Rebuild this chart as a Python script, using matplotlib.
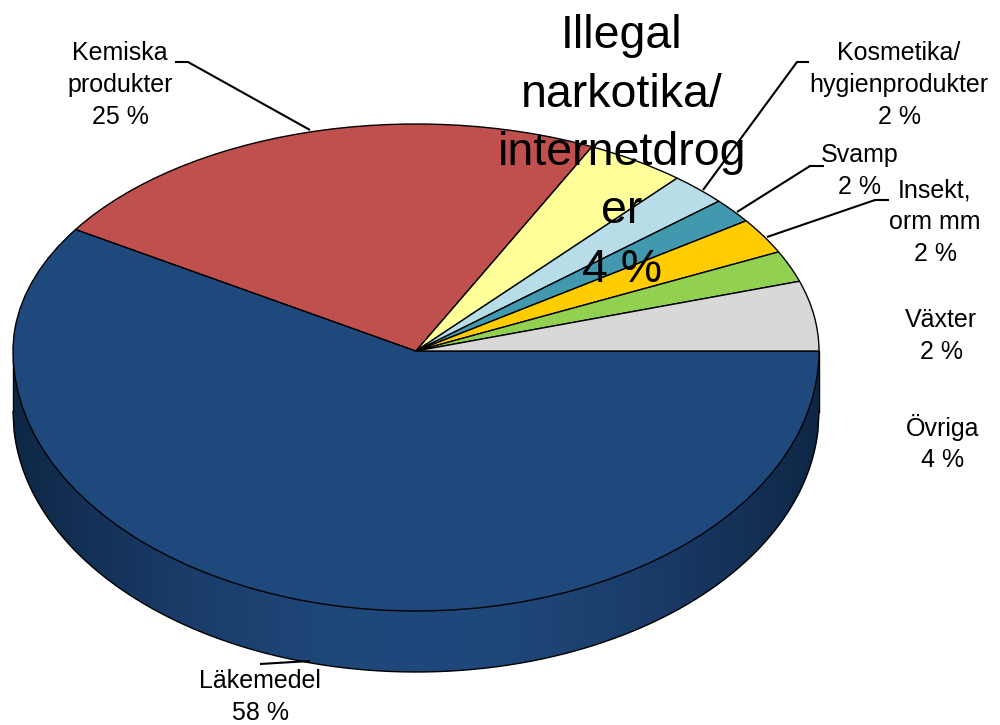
import numpy as np
import matplotlib
matplotlib.use("Agg")
import matplotlib.pyplot as plt
from matplotlib.colors import LinearSegmentedColormap

categories = ["Läkemedel", "Kemiska\nprodukter", "Illegal\nnarkotika/\ninternetdrog\ner",
              "Kosmetika/\nhygienprodukter", "Svamp", "Insekt,\norm mm", "Växter", "Övriga"]
shares_drawn = [59.0, 23.2, 4.03, 2.31, 1.75, 2.53, 2.22, 4.97]
shares_label = [58, 25, 4, 2, 2, 2, 2, 4]
colors = ["#1f497d", "#c0504d", "#ffff99", "#b7dde8", "#4198af", "#ffcc00", "#92d050", "#d8d8d8"]

W, H = 1000, 725
plt.rcParams["font.family"] = ["Liberation Sans", "DejaVu Sans"]
fig = plt.figure(figsize=(W / 100, H / 100), dpi=100)

# The tilted pie is foreshortened more at the back than at the front,
# so the same pie is drawn in two axes, each showing one half.
x0, x1 = 13, 819
yc, back_top, front_bottom = 351, 124, 611
rx = (x1 - x0) / 2
depth = 61 / (front_bottom - yc)
pad = 0.02
xmargin = pad * rx


def half_axes(top_px, bottom_px):
    return fig.add_axes([(x0 - xmargin) / W, 1 - bottom_px / H,
                         (x1 - x0 + 2 * xmargin) / W, (bottom_px - top_px) / H])


back_h = yc - back_top
front_h = front_bottom - yc
ax_back = half_axes(back_top - pad * back_h, yc)
ax_front = half_axes(yc, front_bottom + (depth + pad) * front_h)
for ax, ylim in ((ax_back, (0, 1 + pad)), (ax_front, (-1 - depth - pad, 0))):
    ax.pie(shares_drawn, colors=colors, startangle=0, counterclock=False, radius=1,
           wedgeprops=dict(edgecolor="black", linewidth=1.0, zorder=3, clip_on=True))
    ax.set_aspect("auto")
    ax.set_xlim(-1 - pad, 1 + pad)
    ax.set_ylim(*ylim)
    ax.axis("off")

# Side wall of the pie, below the front half
cmap = LinearSegmentedColormap.from_list("side", ["#0e2746", "#16345c", "#1b3f6d", "#1e4678",
                                                  "#1f497d", "#1e4678", "#1b3f6d", "#16345c", "#0e2746"])
xs = np.linspace(-1, 1, 801)
rim = -np.sqrt(1 - xs ** 2)
wall = ax_front.fill_between(xs, rim, rim - depth, facecolor="none", edgecolor="none", zorder=1)
grad = ax_front.imshow(np.linspace(0, 1, 256)[None, :], cmap=cmap, extent=(-1, 1, -1 - depth, 0),
                       aspect="auto", zorder=1, interpolation="bilinear")
grad.set_clip_path(wall.get_paths()[0], transform=ax_front.transData)
ax_front.set_xlim(-1 - pad, 1 + pad)
ax_front.set_ylim(-1 - depth - pad, 0)
ax_front.plot(xs, rim - depth, color="black", lw=1.0, zorder=2)
ax_front.plot([-1, -1], [0, -depth], color="black", lw=1.0, zorder=2)
ax_front.plot([1, 1], [0, -depth], color="black", lw=1.0, zorder=2)

# Overlay in pixel coordinates for labels and leader lines
ov = fig.add_axes([0, 0, 1, 1], facecolor="none")
ov.set_xlim(0, W)
ov.set_ylim(H, 0)
ov.axis("off")

leaders = [
    ([175, 188, 310], [62, 62, 130]),
    ([809, 797, 703], [62, 62, 190]),
    ([824, 810, 737], [166, 166, 212]),
    ([889, 875, 767], [200, 200, 237]),
    ([260, 310], [664, 661]),
]
for lx, ly in leaders:
    ov.plot(lx, ly, color="black", lw=1.5, solid_capstyle="butt")

label_pos = [(260, 697), (120, 85), (622, 153), (899, 85), (860, 171), (935, 222), (941, 336), (943, 443)]
for i, (name, value) in enumerate(zip(categories, shares_label)):
    big = i == 2
    ov.text(*label_pos[i], f"{name}\n{value} %", ha="center", va="center", multialignment="center",
            fontsize=33.5 if big else 18, color="black", linespacing=1.41 if not big else 1.42)

fig.savefig("out.png", dpi=100)
